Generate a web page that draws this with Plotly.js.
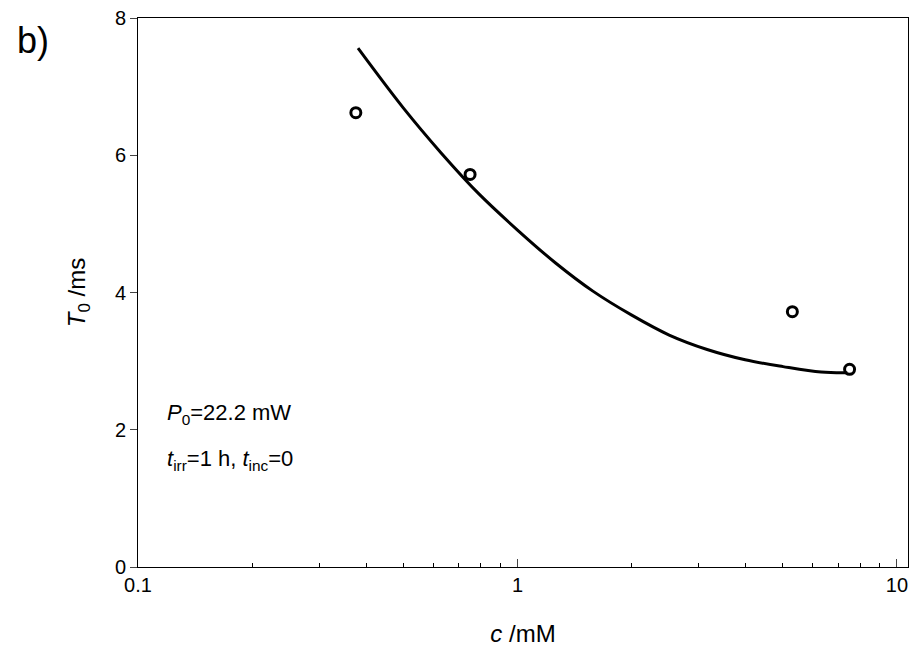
<!DOCTYPE html>
<html><head><meta charset="utf-8">
<script src="https://cdn.plot.ly/plotly-3.0.1.min.js"></script>
<style>body{margin:0}</style></head>
<body><div id="chart" style="width:917px;height:670px"></div>
<script>
// measured points
var cPts = [0.375, 0.75, 5.3, 7.5];
var tPts = [6.62, 5.72, 3.72, 2.88];
// fitted curve
var cFit = [0.38, 0.5, 0.63, 0.79, 1, 1.26, 1.58, 2, 2.51, 3.16, 3.98, 5.01, 6.31, 7.4];
var tFit = [7.56, 6.69, 6.03, 5.44, 4.91, 4.43, 4.02, 3.67, 3.38, 3.17, 3.02, 2.92, 2.84, 2.83];
var xMajor = [0.1, 1, 10];
var xMinor = [0.2,0.3,0.4,0.5,0.6,0.7,0.8,0.9,2,3,4,5,6,7,8,9];

var f = {family: 'Liberation Sans, Arial, sans-serif', size: 20, color: '#000'};
Plotly.newPlot('chart', [
  {x: cFit, y: tFit, mode: 'lines', line: {color: '#000', width: 3, shape: 'spline'}, hoverinfo: 'skip'},
  {x: cPts, y: tPts, mode: 'markers', marker: {symbol: 'circle-open', size: 10, color: '#000', line: {width: 3}}}
], {
  width: 917, height: 670, showlegend: false,
  margin: {l: 138, r: 9, t: 18, b: 103},
  font: f,
  xaxis: {type: 'log', range: [-1, 1.029], tickvals: xMajor, ticktext: ['0.1','1','10'],
    ticks: 'inside', ticklen: 8, tickwidth: 1, showline: true, linecolor: '#000', mirror: true,
    showgrid: false, zeroline: false, tickfont: {size: 20},
    minor: {tickvals: xMinor, ticks: 'inside', ticklen: 4, tickcolor: '#000', showgrid: false},
    title: {text: '<i>c</i> /mM', font: {size: 24}, standoff: 30}},
  yaxis: {range: [0, 8], tickvals: [0,2,4,6,8], ticks: 'outside', ticklen: 7, tickfont: {size: 20},
    showline: true, linecolor: '#000', mirror: true, showgrid: false, zeroline: false,
    title: {text: '<i>T</i><sub>0</sub> /ms', font: {size: 24}, standoff: 22}},
  annotations: [
    {text: 'b)', xref: 'paper', yref: 'paper', x: -0.16, y: 1.0, xanchor: 'left', yanchor: 'top', showarrow: false, font: {size: 36}},
    {text: '<i>P</i><sub>0</sub>=22.2 mW', xref: 'paper', yref: 'paper', x: 0.035, y: 0.25, xanchor: 'left', showarrow: false, font: {size: 22}},
    {text: '<i>t</i><sub>irr</sub>=1 h, <i>t</i><sub>inc</sub>=0', xref: 'paper', yref: 'paper', x: 0.035, y: 0.165, xanchor: 'left', showarrow: false, font: {size: 22}}
  ]
}, {displayModeBar: false});
</script></body></html>
